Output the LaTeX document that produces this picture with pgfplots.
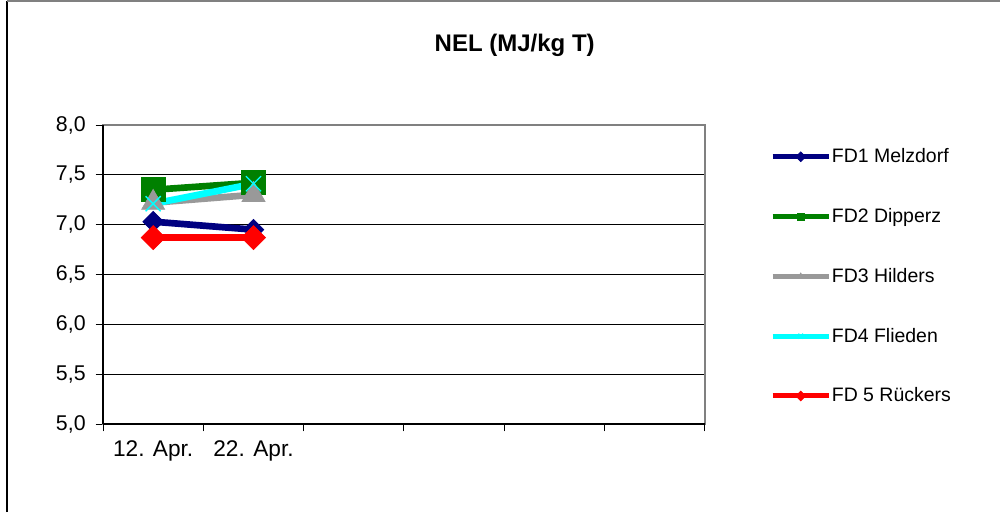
\documentclass[border=0pt]{standalone}
\usepackage{fontspec}
\setmainfont{Liberation Sans}
\usepackage{pgfplots}
\pgfplotsset{compat=1.18}
\definecolor{fdnavy}{RGB}{0,0,128}
\definecolor{fdgreen}{RGB}{0,128,0}
\definecolor{fdgray}{RGB}{153,153,153}
\definecolor{fdcyan}{RGB}{0,255,255}
\definecolor{fdred}{RGB}{255,0,0}
\begin{document}
\begin{tikzpicture}
\path[use as bounding box] (0,0) rectangle (750pt,384pt);
\draw[black, line width=0.9pt] (5.25pt,0) -- (5.25pt,383.25pt);
\draw[gray, line width=1.5pt] (5.25pt,383.25pt) -- (750pt,383.25pt);
\node[font=\bfseries\fontsize{18}{20}\selectfont] at (386pt,350pt) {NEL (MJ/kg T)};
\begin{axis}[
  at={(77.25pt,66pt)}, anchor=south west, scale only axis,
  width=451.5pt, height=224.25pt,
  xmin=-0.5, xmax=5.5, ymin=5, ymax=8,
  ytick={5,5.5,6,6.5,7,7.5,8},
  ymajorgrids, grid style={black, line width=0.6pt},
  axis line style={draw=gray, line width=1.5pt},
  xtick={-0.5,0.5,1.5,2.5,3.5,4.5,5.5}, xticklabels={},
  extra x ticks={0,1}, extra x tick labels={12. Apr.,22. Apr.},
  extra x tick style={major tick length=0pt, grid=none, xticklabel style={yshift=-9pt, font=\fontsize{17}{19}\selectfont}},
  tick align=outside, major tick length=5.5pt,
  tick style={black, line width=0.75pt},
  xtick pos=bottom, ytick pos=left,
  yticklabel={\pgfmathprintnumber[fixed,fixed zerofill,precision=1,use comma,assume math mode=true]{\tick}},
  tick label style={font=\fontsize{16}{18}\selectfont},
  yticklabel style={xshift=-4pt},
  legend cell align=left,
  legend style={at={(1.108,0.928)}, anchor=north west, draw=none, fill=none,
    font=\fontsize{14.6}{17}\selectfont, row sep=29.75pt, inner sep=0pt,
    nodes={inner xsep=0.5pt, inner ysep=1.5pt}},
  legend image code/.code={\draw[#1, mark repeat=2, mark phase=2, mark size=2.6pt, line width=3.7pt] plot coordinates {(0pt,0pt) (21pt,0pt) (42pt,0pt)};},
  after end axis/.code={
    \draw[black, line width=1pt] (rel axis cs:0,0) -- (rel axis cs:0,1);
    \draw[black, line width=1pt] (rel axis cs:0,0) -- (rel axis cs:1,0);
  },
]
\addplot[fdnavy, line width=5pt, mark=square*, mark size=5.5pt, mark options={rotate=45, line width=0.5pt, fill=fdnavy}]
  coordinates {(0,7.03) (1,6.95)};
\addlegendentry{FD1 Melzdorf}
\addplot[fdgreen, line width=5pt, mark=square*, mark size=9pt, mark options={line width=0.5pt, fill=fdgreen}]
  coordinates {(0,7.35) (1,7.42)};
\addlegendentry{FD2 Dipperz}
\addplot[fdgray, line width=5pt, mark=triangle*, mark size=10pt, mark options={line width=0.5pt, fill=fdgray}]
  coordinates {(0,7.22) (1,7.30)};
\addlegendentry{FD3 Hilders}
\addplot[fdcyan, line width=5pt, mark=x, mark size=8pt, mark options={line width=1pt}]
  coordinates {(0,7.21) (1,7.41)};
\addlegendentry{FD4 Flieden}
\addplot[fdred, line width=5pt, mark=square*, mark size=6.4pt, mark options={rotate=45, line width=0.5pt, fill=fdred}]
  coordinates {(0,6.87) (1,6.87)};
\addlegendentry{FD 5 Rückers}
\end{axis}
\end{tikzpicture}
\end{document}
